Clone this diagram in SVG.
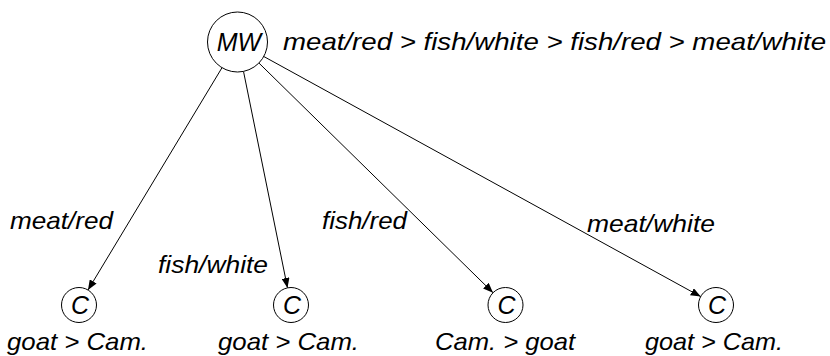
<svg xmlns="http://www.w3.org/2000/svg" width="830" height="356" viewBox="0 0 830 356">
<style>
.n{fill:#fff;stroke:#000;stroke-width:1}
.t{font-family:"Liberation Sans",Arial,sans-serif;font-style:italic;font-size:24px;fill:#000}
.c{font-family:"Liberation Sans",Arial,sans-serif;font-style:italic;font-size:25px;fill:#000}
.e{stroke:#000;stroke-width:1;fill:none;marker-end:url(#ah)}
</style>
<defs>
<marker id="ah" viewBox="0 0 10 8" refX="10" refY="4" markerWidth="10" markerHeight="8" markerUnits="userSpaceOnUse" orient="auto">
<path d="M0,0 L10,4 L0,8 Z" fill="#000"/>
</marker>
</defs>
<rect width="830" height="356" fill="#fff"/>
<g id="edges">
<path class="e" d="M222,67.7 L88,290"/>
<path class="e" d="M243.5,71.4 L287.5,287.9"/>
<path class="e" d="M258.9,63 L493,292.7"/>
<path class="e" d="M263.8,56.5 L700.7,296.6"/>
</g>
<g id="edge-labels">
<text class="t" x="10" y="229" textLength="103" lengthAdjust="spacingAndGlyphs">meat/red</text>
<text class="t" x="158" y="273" textLength="110" lengthAdjust="spacingAndGlyphs">fish/white</text>
<text class="t" x="322" y="229" textLength="85" lengthAdjust="spacingAndGlyphs">fish/red</text>
<text class="t" x="587" y="232" textLength="128" lengthAdjust="spacingAndGlyphs">meat/white</text>
</g>
<g id="MW">
<circle class="n" cx="237.5" cy="42" r="30"/>
<text class="c" x="239" y="51" text-anchor="middle">MW</text>
<text class="t" x="283" y="50" textLength="543" lengthAdjust="spacingAndGlyphs">meat/red &gt; fish/white &gt; fish/red &gt; meat/white</text>
</g>
<g id="C1">
<circle class="n" cx="79" cy="305" r="17.5"/>
<text class="c" x="80" y="314" text-anchor="middle">C</text>
<text class="t" x="7" y="350" textLength="141" lengthAdjust="spacingAndGlyphs">goat &gt; Cam.</text>
</g>
<g id="C2">
<circle class="n" cx="291" cy="305" r="17.5"/>
<text class="c" x="292" y="314" text-anchor="middle">C</text>
<text class="t" x="218" y="350" textLength="141" lengthAdjust="spacingAndGlyphs">goat &gt; Cam.</text>
</g>
<g id="C3">
<circle class="n" cx="505.5" cy="305" r="17.5"/>
<text class="c" x="506.5" y="314" text-anchor="middle">C</text>
<text class="t" x="435" y="350" textLength="140" lengthAdjust="spacingAndGlyphs">Cam. &gt; goat</text>
</g>
<g id="C4">
<circle class="n" cx="716" cy="305" r="17.5"/>
<text class="c" x="717" y="314" text-anchor="middle">C</text>
<text class="t" x="645" y="350" textLength="138" lengthAdjust="spacingAndGlyphs">goat &gt; Cam.</text>
</g>
</svg>
